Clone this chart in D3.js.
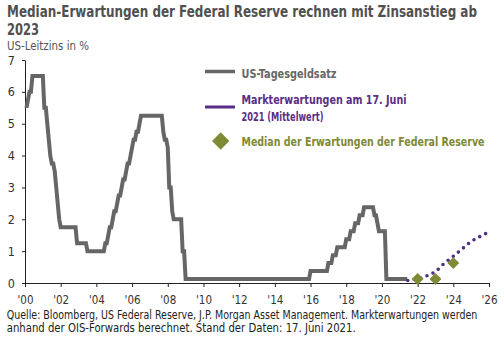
<!DOCTYPE html>
<html>
<head>
<meta charset="utf-8">
<script src="https://cdn.jsdelivr.net/npm/d3@7"></script>
<style>
  html, body { margin: 0; padding: 0; background: #fff; }
  svg { display: block; }
</style>
</head>
<body>
<svg id="chart" width="503" height="337"></svg>
<script>
// ---------- DATA ----------
const titleLines = ["Median-Erwartungen der Federal Reserve rechnen mit Zinsanstieg ab", "2023"];
const subtitle = "US-Leitzins in %";
const footerLines = [
  "Quelle: Bloomberg, US Federal Reserve, J.P. Morgan Asset Management. Markterwartungen werden",
  "anhand der OIS-Forwards berechnet. Stand der Daten: 17. Juni 2021."
];
const legendLabels = ["US-Tagesgeldsatz", "Markterwartungen am 17. Juni", "2021 (Mittelwert)", "Median der Erwartungen der Federal Reserve"];

const xTickYears = [2000, 2002, 2004, 2006, 2008, 2010, 2012, 2014, 2016, 2018, 2020, 2022, 2024, 2026];
const yTickValues = [0, 1, 2, 3, 4, 5, 6, 7];

// US federal funds target rate (midpoint), month-end values at change points
const fedFunds = [
  ["2000-01", 5.5], ["2000-02", 5.75], ["2000-03", 6.0], ["2000-04", 6.0], ["2000-05", 6.5], ["2000-12", 6.5],
  ["2001-01", 5.5], ["2001-02", 5.5], ["2001-03", 5.0], ["2001-04", 4.5], ["2001-05", 4.0], ["2001-06", 3.75],
  ["2001-07", 3.75], ["2001-08", 3.5], ["2001-09", 3.0], ["2001-10", 2.5], ["2001-11", 2.0], ["2001-12", 1.75],
  ["2002-10", 1.75], ["2002-11", 1.25], ["2003-05", 1.25], ["2003-06", 1.0], ["2004-05", 1.0],
  ["2004-06", 1.25], ["2004-07", 1.25], ["2004-08", 1.5], ["2004-09", 1.75], ["2004-10", 1.75], ["2004-11", 2.0], ["2004-12", 2.25],
  ["2005-01", 2.25], ["2005-02", 2.5], ["2005-03", 2.75], ["2005-04", 2.75], ["2005-05", 3.0], ["2005-06", 3.25],
  ["2005-07", 3.25], ["2005-08", 3.5], ["2005-09", 3.75], ["2005-10", 3.75], ["2005-11", 4.0], ["2005-12", 4.25],
  ["2006-01", 4.5], ["2006-02", 4.5], ["2006-03", 4.75], ["2006-04", 4.75], ["2006-05", 5.0], ["2006-06", 5.25],
  ["2007-08", 5.25], ["2007-09", 4.75], ["2007-10", 4.5], ["2007-11", 4.5], ["2007-12", 4.25],
  ["2008-01", 3.0], ["2008-02", 3.0], ["2008-03", 2.25], ["2008-04", 2.0], ["2008-09", 2.0], ["2008-10", 1.0], ["2008-11", 1.0], ["2008-12", 0.125],
  ["2015-11", 0.125], ["2015-12", 0.375], ["2016-11", 0.375], ["2016-12", 0.625], ["2017-02", 0.625], ["2017-03", 0.875],
  ["2017-05", 0.875], ["2017-06", 1.125], ["2017-11", 1.125], ["2017-12", 1.375], ["2018-02", 1.375], ["2018-03", 1.625],
  ["2018-05", 1.625], ["2018-06", 1.875], ["2018-08", 1.875], ["2018-09", 2.125], ["2018-11", 2.125], ["2018-12", 2.375],
  ["2019-06", 2.375], ["2019-07", 2.125], ["2019-08", 2.125], ["2019-09", 1.875], ["2019-10", 1.625], ["2020-02", 1.625],
  ["2020-03", 0.125], ["2021-05", 0.125]
];

// Market expectations (OIS forwards) as of 17 June 2021, [decimal year, %]
const marketYears = [2021.45, 2022.0, 2022.5, 2023.0, 2023.5, 2024.0, 2024.5, 2025.0, 2025.5, 2026.0];
const marketValues = [0.08, 0.13, 0.22, 0.36, 0.62, 0.84, 1.07, 1.3, 1.46, 1.6];

// Fed median dots (year-end 2021, 2022, 2023)
const fedMedianYears = [2022, 2023, 2024];
const fedMedianValues = [0.125, 0.125, 0.625];

// ---------- STYLE ----------
const FONT = "'Liberation Sans Narrow', 'DejaVu Sans Condensed', 'Arial Narrow', 'Liberation Sans', sans-serif";
const GREY = "#666666";
const PURPLE = "#4f2d7f";
const PURPLE_TXT = "#5a2d86";
const OLIVE = "#7e8a34";

const svg = d3.select("#chart");

function fitText(sel, width) {
  sel.attr("textLength", width).attr("lengthAdjust", "spacingAndGlyphs");
}

// ---------- SCALES ----------
const x = d3.scaleLinear().domain([2000, 2026]).range([25, 489]);
const y = d3.scaleLinear().domain([0, 7]).range([283, 60]);

function monthToYear(s) {
  const [yy, mm] = s.split("-").map(Number);
  return yy + mm / 12;
}

// ---------- TITLE ----------
svg.append("text").attr("x", 7).attr("y", 17)
  .attr("font-family", FONT).attr("font-weight", "bold").attr("font-size", 16.5).attr("fill", "#505050")
  .text(titleLines[0]).call(fitText, 470);
svg.append("text").attr("x", 7).attr("y", 35)
  .attr("font-family", FONT).attr("font-weight", "bold").attr("font-size", 16.5).attr("fill", "#505050")
  .text(titleLines[1]).call(fitText, 32);
svg.append("text").attr("x", 7).attr("y", 50)
  .attr("font-family", FONT).attr("font-size", 12.5).attr("fill", "#555")
  .text(subtitle).call(fitText, 82);

// ---------- AXES ----------
const xAxis = d3.axisBottom(x).tickValues(xTickYears)
  .tickFormat(d => "'" + String(d).slice(2)).tickSize(4).tickSizeOuter(0).tickPadding(9);
const gx = svg.append("g").attr("transform", `translate(0,${y(0)})`).call(xAxis);
gx.selectAll("text").attr("font-family", FONT).attr("font-size", 11.5).attr("fill", "#333");
gx.selectAll("line, path").attr("stroke", "#222");

const yAxis = d3.axisLeft(y).tickValues(yTickValues).tickFormat(d3.format("d"))
  .tickSize(3).tickSizeOuter(0).tickPadding(7);
const gy = svg.append("g").attr("transform", `translate(${x(2000)},0)`).call(yAxis);
gy.selectAll("text").attr("font-family", FONT).attr("font-size", 12.5).attr("fill", "#333");
gy.selectAll("line, path").attr("stroke", "#222");

// ---------- SERIES ----------
const line = d3.line().x(d => x(d[0])).y(d => y(d[1]));

svg.append("path")
  .datum(fedFunds.map(d => [monthToYear(d[0]), d[1]]))
  .attr("d", line)
  .attr("fill", "none").attr("stroke", GREY).attr("stroke-width", 4)
  .attr("stroke-linejoin", "miter");

svg.append("path")
  .datum(marketYears.map((yr, i) => [yr, marketValues[i]]))
  .attr("d", line.curve(d3.curveMonotoneX))
  .attr("fill", "none").attr("stroke", PURPLE).attr("stroke-width", 3.6)
  .attr("stroke-linecap", "round").attr("stroke-dasharray", "0,6.6");

const diamond = d3.symbol().type(d3.symbolDiamond2);
svg.selectAll("path.fedmed")
  .data(fedMedianYears.map((yr, i) => [yr, fedMedianValues[i]]))
  .join("path").attr("class", "fedmed")
  .attr("d", diamond.size(90)())
  .attr("transform", d => `translate(${x(d[0])},${y(d[1])})`)
  .attr("fill", OLIVE);

// ---------- LEGEND ----------
const lg = svg.append("g");
lg.append("line").attr("x1", 205).attr("x2", 235).attr("y1", 71.5).attr("y2", 71.5)
  .attr("stroke", GREY).attr("stroke-width", 3.5);
lg.append("text").attr("x", 241.5).attr("y", 77.5)
  .attr("font-family", FONT).attr("font-weight", "bold").attr("font-size", 12.5).attr("fill", GREY)
  .text(legendLabels[0]).call(fitText, 95);

lg.append("line").attr("x1", 205).attr("x2", 235).attr("y1", 107).attr("y2", 107)
  .attr("stroke", PURPLE_TXT).attr("stroke-width", 3);
lg.append("text").attr("x", 241.5).attr("y", 104.3)
  .attr("font-family", FONT).attr("font-weight", "bold").attr("font-size", 12.5).attr("fill", PURPLE_TXT)
  .text(legendLabels[1]).call(fitText, 165);
lg.append("text").attr("x", 241.5).attr("y", 121)
  .attr("font-family", FONT).attr("font-weight", "bold").attr("font-size", 12.5).attr("fill", PURPLE_TXT)
  .text(legendLabels[2]).call(fitText, 82);

lg.append("path").attr("d", diamond.size(190)())
  .attr("transform", "translate(220.7,141)").attr("fill", OLIVE);
lg.append("text").attr("x", 241.5).attr("y", 145.8)
  .attr("font-family", FONT).attr("font-weight", "bold").attr("font-size", 12.5).attr("fill", OLIVE)
  .text(legendLabels[3]).call(fitText, 243);

// ---------- FOOTER ----------
svg.append("text").attr("x", 6.7).attr("y", 319)
  .attr("font-family", FONT).attr("font-size", 11.5).attr("fill", "#222")
  .text(footerLines[0]).call(fitText, 470.6);
svg.append("text").attr("x", 6.7).attr("y", 331.7)
  .attr("font-family", FONT).attr("font-size", 11.5).attr("fill", "#222")
  .text(footerLines[1]).call(fitText, 349);
</script>
</body>
</html>
